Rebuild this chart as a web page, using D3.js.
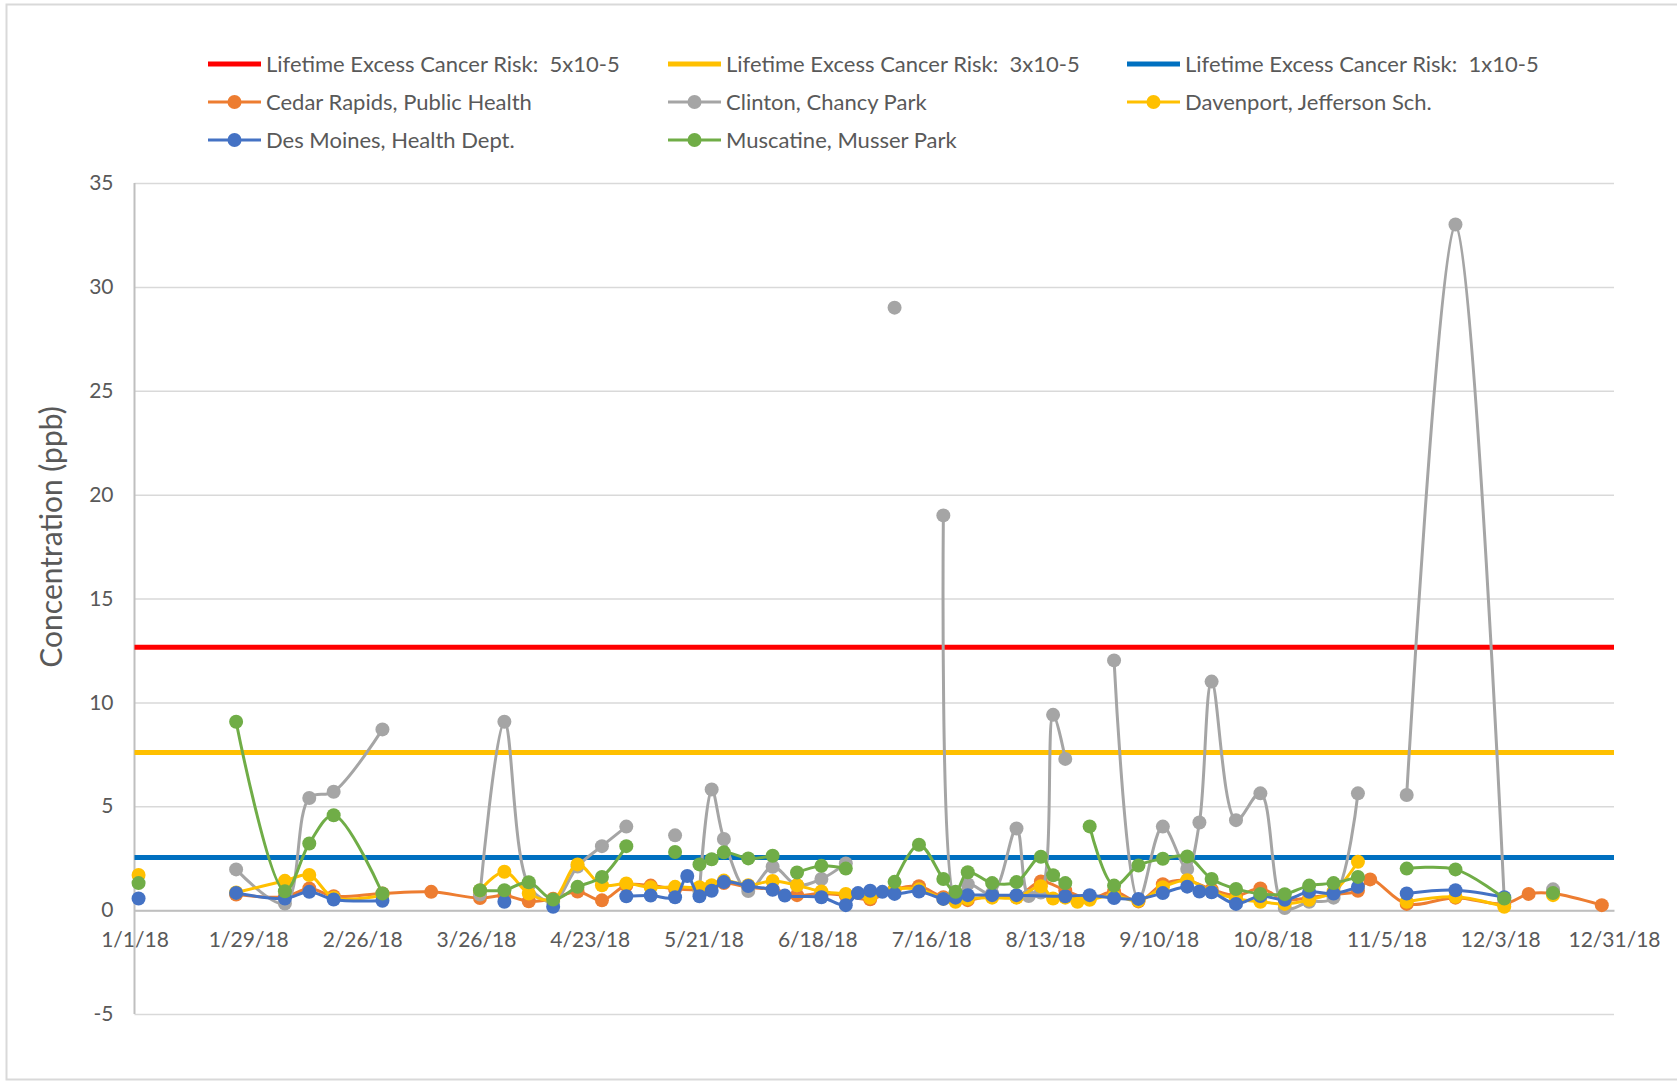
<!DOCTYPE html>
<html>
<head>
<meta charset="utf-8">
<script src="https://cdn.jsdelivr.net/npm/d3@7"></script>
<style>
  body { margin: 0; background: #ffffff; }
  text { font-family: Lato, "Open Sans", "Liberation Sans", sans-serif; fill: #595959; }
</style>
</head>
<body>
<svg id="chart" width="1677" height="1082"></svg>
<script>
// ---------------- DATA ----------------
const GAP = null; // blank cell: the line breaks here

const yTicks = [-5, 0, 5, 10, 15, 20, 25, 30, 35];
const xTickLabels = ["1/1/18", "1/29/18", "2/26/18", "3/26/18", "4/23/18", "5/21/18", "6/18/18",
  "7/16/18", "8/13/18", "9/10/18", "10/8/18", "11/5/18", "12/3/18", "12/31/18"];
const xDomain = ["1/1/18", "12/31/18"];

const thresholdNames = ["Lifetime Excess Cancer Risk:  5x10-5", "Lifetime Excess Cancer Risk:  3x10-5",
  "Lifetime Excess Cancer Risk:  1x10-5"];
const thresholdValues = [12.65, 7.59, 2.53];

const siteNames = ["Cedar Rapids, Public Health", "Clinton, Chancy Park", "Davenport, Jefferson Sch.",
  "Des Moines, Health Dept.", "Muscatine, Musser Park"];

const cedarRapids = [
  ["1/26/18", 0.75], ["2/7/18", 0.65], ["2/13/18", 1.04], ["2/19/18", 0.67], ["3/3/18", 0.8], ["3/15/18", 0.88],
  ["3/27/18", 0.58], ["4/2/18", 0.7], ["4/8/18", 0.43], ["4/14/18", 0.55], ["4/20/18", 0.9], ["4/26/18", 0.47],
  ["5/2/18", 1.2], ["5/8/18", 1.18], ["5/14/18", 1.02], ["5/20/18", 1.0], ["5/26/18", 1.3], ["6/1/18", 1.1],
  ["6/7/18", 1.0], ["6/13/18", 0.72], ["6/19/18", 0.8], ["6/25/18", 0.7], ["7/1/18", 0.52], ["7/7/18", 1.0],
  ["7/13/18", 1.15], ["7/19/18", 0.62], ["7/25/18", 0.48], ["7/31/18", 0.7], ["8/6/18", 0.62], ["8/12/18", 1.38],
  ["8/18/18", 0.95], ["8/24/18", 0.55], ["8/30/18", 0.9], ["9/5/18", 0.42], ["9/11/18", 1.25], ["9/17/18", 1.42],
  ["9/23/18", 1.0], ["9/29/18", 0.7], ["10/5/18", 1.04], ["10/11/18", 0.5], ["10/17/18", 0.6], ["10/23/18", 0.75],
  ["10/29/18", 0.93], ["11/1/18", 1.48], ["11/10/18", 0.3], ["11/22/18", 0.6], ["12/4/18", 0.3], ["12/10/18", 0.78],
  ["12/16/18", 0.8], ["12/28/18", 0.24]
];

const clinton = [
  ["1/26/18", 1.96], ["2/7/18", 0.32], ["2/13/18", 5.4], ["2/19/18", 5.7], ["3/3/18", 8.7], GAP,
  ["3/27/18", 0.75], ["4/2/18", 9.07], ["4/8/18", 1.2], ["4/14/18", 0.4], ["4/20/18", 2.1], ["4/26/18", 3.08],
  ["5/2/18", 4.02], GAP,
  ["5/14/18", 3.6], GAP,
  ["5/20/18", 0.9], ["5/23/18", 5.81], ["5/26/18", 3.42], ["6/1/18", 0.92], ["6/7/18", 2.09], ["6/13/18", 1.2],
  ["6/19/18", 1.5], ["6/25/18", 2.25], GAP,
  ["7/7/18", 29.0], GAP,
  ["7/19/18", 19.0], ["7/22/18", 0.5], ["7/25/18", 1.25], ["7/31/18", 0.8], ["8/6/18", 3.93], ["8/9/18", 0.68],
  ["8/12/18", 0.85], ["8/15/18", 9.4], ["8/18/18", 7.28], GAP,
  ["8/30/18", 12.02], ["9/5/18", 0.5], ["9/11/18", 4.02], ["9/17/18", 1.98], ["9/20/18", 4.22], ["9/23/18", 11.0],
  ["9/29/18", 4.33], ["10/5/18", 5.62], ["10/11/18", 0.1], ["10/17/18", 0.4], ["10/23/18", 0.6], ["10/29/18", 5.62], GAP,
  ["11/10/18", 5.54], ["11/22/18", 33.0], ["12/4/18", 0.5], GAP,
  ["12/16/18", 1.0]
];

const davenport = [
  ["1/2/18", 1.69], GAP,
  ["1/26/18", 0.85], ["2/7/18", 1.41], ["2/13/18", 1.69], ["2/19/18", 0.6], ["3/3/18", 0.72], GAP,
  ["3/27/18", 0.95], ["4/2/18", 1.85], ["4/8/18", 0.8], ["4/14/18", 0.5], ["4/20/18", 2.2], ["4/26/18", 1.2],
  ["5/2/18", 1.28], ["5/8/18", 1.1], ["5/14/18", 1.12], ["5/20/18", 1.1], ["5/23/18", 1.2], ["5/26/18", 1.42],
  ["6/1/18", 1.2], ["6/7/18", 1.4], ["6/13/18", 1.2], ["6/19/18", 0.9], ["6/25/18", 0.78], ["7/1/18", 0.6],
  ["7/7/18", 1.0], ["7/13/18", 1.0], ["7/19/18", 0.55], ["7/22/18", 0.4], ["7/25/18", 0.55], ["7/31/18", 0.6],
  ["8/6/18", 0.6], ["8/12/18", 1.15], ["8/15/18", 0.56], ["8/18/18", 0.6], ["8/21/18", 0.4], ["8/24/18", 0.5],
  ["8/30/18", 0.7], ["9/5/18", 0.45], ["9/11/18", 1.1], ["9/17/18", 1.44], ["9/23/18", 0.9], ["9/29/18", 0.55],
  ["10/5/18", 0.4], ["10/11/18", 0.3], ["10/17/18", 0.5], ["10/23/18", 0.9], ["10/29/18", 2.33], GAP,
  ["11/10/18", 0.4], ["11/22/18", 0.64], ["12/4/18", 0.16], GAP,
  ["12/16/18", 0.72]
];

const desMoines = [
  ["1/2/18", 0.56], GAP,
  ["1/26/18", 0.83], ["2/7/18", 0.56], ["2/13/18", 0.88], ["2/19/18", 0.51], ["3/3/18", 0.45], GAP,
  ["4/2/18", 0.4], GAP,
  ["4/14/18", 0.16], GAP,
  ["5/2/18", 0.67], ["5/8/18", 0.7], ["5/14/18", 0.62], ["5/17/18", 1.64], ["5/20/18", 0.67], ["5/23/18", 0.93],
  ["5/26/18", 1.35], ["6/1/18", 1.16], ["6/7/18", 0.98], ["6/10/18", 0.7], ["6/19/18", 0.62], ["6/25/18", 0.24],
  ["6/28/18", 0.82], ["7/1/18", 0.93], ["7/4/18", 0.88], ["7/7/18", 0.78], ["7/13/18", 0.9], ["7/19/18", 0.54],
  ["7/22/18", 0.6], ["7/25/18", 0.72], ["7/31/18", 0.72], ["8/6/18", 0.72], ["8/18/18", 0.67], ["8/24/18", 0.72],
  ["8/30/18", 0.58], ["9/5/18", 0.54], ["9/11/18", 0.82], ["9/17/18", 1.13], ["9/20/18", 0.9], ["9/23/18", 0.86],
  ["9/29/18", 0.3], ["10/5/18", 0.68], ["10/11/18", 0.5], ["10/17/18", 0.88], ["10/23/18", 0.8], ["10/29/18", 1.12], GAP,
  ["11/10/18", 0.8], ["11/22/18", 0.96], ["12/4/18", 0.62]
];

const muscatine = [
  ["1/2/18", 1.3], GAP,
  ["1/26/18", 9.07], ["2/7/18", 0.91], ["2/13/18", 3.21], ["2/19/18", 4.57], ["3/3/18", 0.8], GAP,
  ["3/27/18", 0.96], ["4/2/18", 0.96], ["4/8/18", 1.34], ["4/14/18", 0.51], ["4/20/18", 1.12], ["4/26/18", 1.6],
  ["5/2/18", 3.08], GAP,
  ["5/14/18", 2.8], GAP,
  ["5/20/18", 2.2], ["5/23/18", 2.45], ["5/26/18", 2.78], ["6/1/18", 2.49], ["6/7/18", 2.62], GAP,
  ["6/13/18", 1.81], ["6/19/18", 2.13], ["6/25/18", 2.0], GAP,
  ["7/7/18", 1.36], ["7/13/18", 3.15], ["7/19/18", 1.5], ["7/22/18", 0.88], ["7/25/18", 1.82], ["7/31/18", 1.3],
  ["8/6/18", 1.35], ["8/12/18", 2.57], ["8/15/18", 1.68], ["8/18/18", 1.3], GAP,
  ["8/24/18", 4.03], ["8/30/18", 1.18], ["9/5/18", 2.15], ["9/11/18", 2.47], ["9/17/18", 2.58], ["9/23/18", 1.5],
  ["9/29/18", 1.02], ["10/5/18", 0.78], ["10/11/18", 0.77], ["10/17/18", 1.18], ["10/23/18", 1.3], ["10/29/18", 1.6], GAP,
  ["11/10/18", 2.0], ["11/22/18", 1.96], ["12/4/18", 0.56], GAP,
  ["12/16/18", 0.82]
];

const siteSeries = [cedarRapids, clinton, davenport, desMoines, muscatine];

// ---------------- STYLE ----------------
const thresholdColors = ["#FF0000", "#FFC000", "#0070C0"];
const siteColors = ["#ED7D31", "#A5A5A5", "#FFC000", "#4472C4", "#70AD47"];

// ---------------- DRAW ----------------
const parse = d3.timeParse("%m/%d/%y");
const svg = d3.select("#chart");
const FONT = "Lato, 'Open Sans', sans-serif";

const plot = { left: 134.5, right: 1614, top: 183, bottom: 1014 };
const x = d3.scaleTime().domain(xDomain.map(parse)).range([plot.left, plot.right]);
const y = d3.scaleLinear().domain([d3.min(yTicks), d3.max(yTicks)]).range([plot.bottom, plot.top]);

// outer chart border
svg.append("rect").attr("x", 6.5).attr("y", 4.5).attr("width", 1700).attr("height", 1075)
  .attr("fill", "#ffffff").attr("stroke", "#d9d9d9").attr("stroke-width", 2);

// horizontal gridlines via axis
const yAxis = d3.axisLeft(y).tickValues(yTicks).tickSize(-(plot.right - plot.left)).tickPadding(21)
  .tickFormat(d => String(d));
const gy = svg.append("g").attr("transform", `translate(${plot.left},0)`).call(yAxis);
gy.select(".domain").remove();
gy.selectAll(".tick line").attr("stroke", "#d9d9d9").attr("stroke-width", 1.5);
gy.selectAll(".tick text").attr("font-size", 21).attr("fill", "#595959").style("font-family", FONT);

// vertical axis line
svg.append("line").attr("x1", plot.left).attr("x2", plot.left).attr("y1", y(35)).attr("y2", y(-5))
  .attr("stroke", "#bfbfbf").attr("stroke-width", 2);

// horizontal category axis at zero
const xAxis = d3.axisBottom(x).tickValues(xTickLabels.map(parse)).tickSize(0).tickPadding(22)
  .tickFormat((d, i) => xTickLabels[i]);
const gx = svg.append("g").attr("transform", `translate(0,${y(0)})`).call(xAxis);
gx.select(".domain").attr("stroke", "#bfbfbf").attr("stroke-width", 2);
gx.selectAll(".tick text").attr("font-size", 21).attr("fill", "#595959").style("font-family", FONT);

// threshold lines
thresholdValues.forEach((v, i) => {
  svg.append("line").attr("x1", x(parse(xDomain[0]))).attr("x2", x(parse(xDomain[1])))
    .attr("y1", y(v)).attr("y2", y(v))
    .attr("stroke", thresholdColors[i]).attr("stroke-width", 5);
});

// site series
const line = d3.line()
  .defined(d => d !== null)
  .x(d => x(parse(d[0])))
  .y(d => y(d[1]))
  .curve(d3.curveCatmullRom.alpha(0.5));

siteSeries.forEach((data, i) => {
  const g = svg.append("g");
  g.append("path").datum(data).attr("d", line)
    .attr("fill", "none").attr("stroke", siteColors[i]).attr("stroke-width", 3)
    .attr("stroke-linejoin", "round").attr("stroke-linecap", "round");
  g.selectAll("circle").data(data.filter(d => d !== null)).join("circle")
    .attr("cx", d => x(parse(d[0]))).attr("cy", d => y(d[1])).attr("r", 7)
    .attr("fill", siteColors[i]);
});

// y title
svg.append("text").attr("transform", "translate(62,537) rotate(-90)")
  .attr("text-anchor", "middle").attr("font-size", 30).text("Concentration (ppb)");

// legend
const legendItems = thresholdNames.map((n, i) => ({ name: n, color: thresholdColors[i], marker: false }))
  .concat(siteNames.map((n, i) => ({ name: n, color: siteColors[i], marker: true })));
const colX = [208, 668, 1127];
const rowY = [64, 102, 140];
const lg = svg.append("g");
legendItems.forEach((it, k) => {
  const cx = colX[k % 3], cy = rowY[Math.floor(k / 3)];
  const g = lg.append("g").attr("transform", `translate(${cx},${cy})`);
  g.append("line").attr("x1", 0).attr("x2", 53).attr("y1", 0).attr("y2", 0)
    .attr("stroke", it.color).attr("stroke-width", it.marker ? 3 : 5);
  if (it.marker) g.append("circle").attr("cx", 26.5).attr("cy", 0).attr("r", 7).attr("fill", it.color);
  g.append("text").attr("x", 58).attr("y", 8).attr("font-size", 22)
    .style("white-space", "pre").text(it.name);
});
</script>
</body>
</html>
